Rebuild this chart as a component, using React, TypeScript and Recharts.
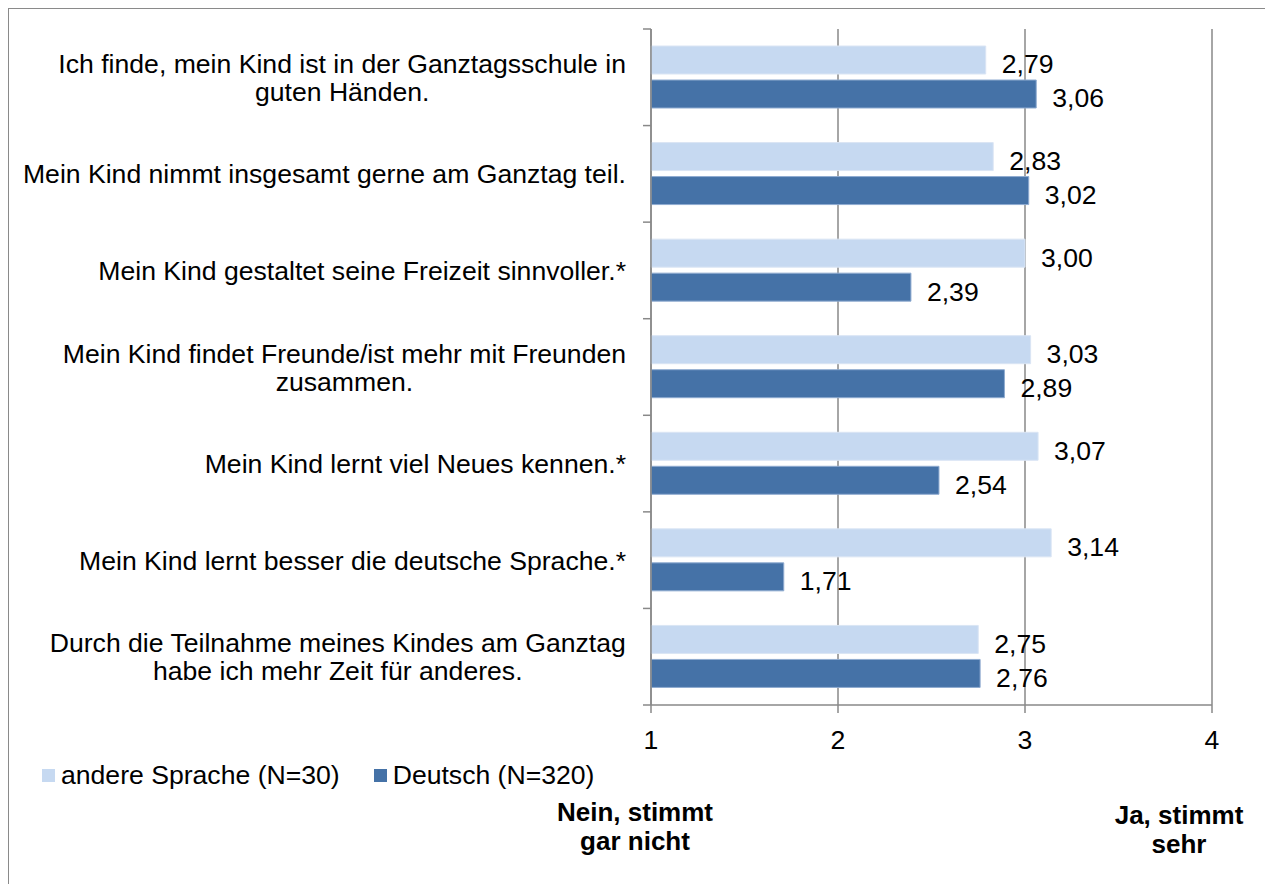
import { BarChart, Bar, XAxis, YAxis, CartesianGrid, Legend, LabelList } from "recharts";

const categories = [
  "Ich finde, mein Kind ist in der Ganztagsschule in\nguten Händen.",
  "Mein Kind nimmt insgesamt gerne am Ganztag teil.",
  "Mein Kind gestaltet seine Freizeit sinnvoller.*",
  "Mein Kind findet Freunde/ist mehr mit Freunden\nzusammen.",
  "Mein Kind lernt viel Neues kennen.*",
  "Mein Kind lernt besser die deutsche Sprache.*",
  "Durch die Teilnahme meines Kindes am Ganztag\nhabe ich mehr Zeit für anderes.",
];
const andereSprache = [2.79, 2.83, 3.0, 3.03, 3.07, 3.14, 2.75];
const deutsch = [3.06, 3.02, 2.39, 2.89, 2.54, 1.71, 2.76];
const seriesNames = ["andere Sprache (N=30)", "Deutsch (N=320)"];
const xTicks = [1, 2, 3, 4];
const scaleEnds = ["Nein, stimmt\ngar nicht", "Ja, stimmt\nsehr"];

const FONT = "'Liberation Sans', Arial, Helvetica, sans-serif";
const FS = 26.6;
const LIGHT = "#C6D9F1";
const DARK = "#4572A7";
const AXIS = "#898989";

const W = 1256;
const H = 875;
const MARGIN = { top: 20, right: 53, bottom: 139, left: 0 };
const Y_W = 642;
const X_H = 40;
const TICK_SIZE = 8;
const TICK_MARGIN = 17;
const PLOT_H = H - MARGIN.top - MARGIN.bottom - X_H;
const BAND = PLOT_H / categories.length;

const data = categories.map((label, i) => ({
  label,
  andere: andereSprache[i],
  deutsch: deutsch[i],
}));

let ctx: CanvasRenderingContext2D | null = null;
function textWidth(s: string) {
  if (!ctx) ctx = document.createElement("canvas").getContext("2d");
  if (!ctx) return s.length * 13;
  ctx.font = `${FS}px ${FONT}`;
  return ctx.measureText(s).width;
}

function CategoryTick(props: any) {
  const { x, y, payload, index } = props;
  const lines = String(payload.value).split("\n");
  const maxW = Math.max(...lines.map(textWidth));
  const axisX = x + TICK_SIZE + TICK_MARGIN;
  const lineH = 28;
  return (
    <g>
      <line x1={axisX - TICK_SIZE} x2={axisX} y1={y - BAND / 2} y2={y - BAND / 2} stroke={AXIS} strokeWidth={1.5} />
      {index === categories.length - 1 && (
        <line x1={axisX - TICK_SIZE} x2={axisX} y1={y + BAND / 2} y2={y + BAND / 2} stroke={AXIS} strokeWidth={1.5} />
      )}
      {lines.map((line, i) => (
        <text
          key={i}
          x={lines.length > 1 ? x - maxW / 2 : x}
          y={y + (i - (lines.length - 1) / 2) * lineH}
          dy="0.36em"
          textAnchor={lines.length > 1 ? "middle" : "end"}
          fontSize={FS}
          fontFamily={FONT}
          fill="#000"
        >
          {line}
        </text>
      ))}
    </g>
  );
}

const fmt = (v: any) => Number(v).toFixed(2).replace(".", ",");

function LegendContent() {
  const colors = [LIGHT, DARK];
  return (
    <div style={{ display: "flex", alignItems: "center", fontFamily: FONT, fontSize: FS, lineHeight: "30px", color: "#000" }}>
      {seriesNames.map((name, i) => (
        <div key={name} style={{ display: "flex", alignItems: "center", marginLeft: i === 0 ? 0 : 34 }}>
          <span style={{ width: 13, height: 13, background: colors[i], marginRight: 6, display: "inline-block" }} />
          <span>{name}</span>
        </div>
      ))}
    </div>
  );
}

export default function App() {
  return (
    <div
      style={{
        position: "relative",
        width: 1257,
        height: 876,
        borderTop: "1px solid #8a8a8a",
        borderLeft: "1px solid #8a8a8a",
        boxSizing: "border-box",
        background: "#fff",
      }}
    >
      <BarChart
        width={W}
        height={H}
        data={data}
        layout="vertical"
        margin={MARGIN}
        barCategoryGap={17}
        barGap={6}
      >
        <CartesianGrid horizontal={false} stroke={AXIS} strokeWidth={1.5} />
        <XAxis
          type="number"
          domain={[1, 4]}
          ticks={xTicks}
          height={X_H}
          tickSize={TICK_SIZE}
          tickMargin={17}
          stroke={AXIS}
          strokeWidth={1.5}
          tick={{ fontSize: FS, fill: "#000", fontFamily: FONT }}
        />
        <YAxis
          type="category"
          dataKey="label"
          width={Y_W}
          interval={0}
          tickLine={false}
          tickSize={TICK_SIZE}
          tickMargin={TICK_MARGIN}
          stroke={AXIS}
          strokeWidth={1.5}
          tick={<CategoryTick />}
        />
        <Legend
          layout="vertical"
          align="center"
          verticalAlign="middle"
          content={<LegendContent />}
          wrapperStyle={{ left: 33, top: 751, width: "auto" }}
        />
        <Bar dataKey="andere" name={seriesNames[0]} fill={LIGHT} stroke="#DAE5F4" strokeWidth={1} isAnimationActive={false}>
          <LabelList dataKey="andere" position="right" offset={16} formatter={fmt} dy={4}
            style={{ fontSize: FS, fill: "#000", fontFamily: FONT }} />
        </Bar>
        <Bar dataKey="deutsch" name={seriesNames[1]} fill={DARK} stroke="#8FABD0" strokeWidth={1} isAnimationActive={false}>
          <LabelList dataKey="deutsch" position="right" offset={16} formatter={fmt} dy={4}
            style={{ fontSize: FS, fill: "#000", fontFamily: FONT }} />
        </Bar>
      </BarChart>
      {scaleEnds.map((t, i) => (
        <div
          key={t}
          style={{
            position: "absolute",
            left: i === 0 ? 506 : 1050,
            width: 240,
            top: i === 0 ? 789 : 792,
            textAlign: "center",
            fontFamily: FONT,
            fontWeight: "bold",
            fontSize: 26,
            lineHeight: "29px",
            whiteSpace: "pre-line",
            color: "#000",
          }}
        >
          {t}
        </div>
      ))}
    </div>
  );
}
